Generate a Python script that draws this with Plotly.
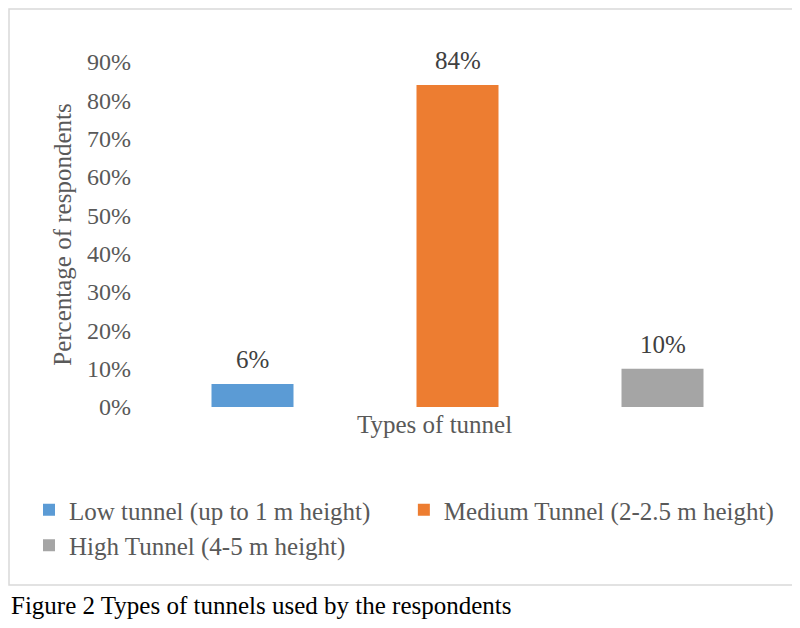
import plotly.graph_objects as go

# Datos del gráfico
tipos = ['Low tunnel (up to 1 m height)', 'Medium Tunnel (2-2.5 m height)', 'High Tunnel (4-5 m height)']
porcentajes = [0.06, 0.84, 0.10]
colores = ['#5B9BD5', '#ED7D31', '#A5A5A5']
ticks_y = [0, 0.1, 0.2, 0.3, 0.4, 0.5, 0.6, 0.7, 0.8, 0.9]
etiquetas_y = ['0%', '10%', '20%', '30%', '40%', '50%', '60%', '70%', '80%', '90%']

# La página tiene un margen de 8 px en el body, así que la figura es algo más pequeña
OFF = 8
W, H = 800 - OFF, 628 - OFF
fuente = 'Liberation Serif'
gris = '#595959'


def px(x):
    # posición horizontal de la pantalla -> coordenadas paper
    return (x - OFF) / W


def py(y):
    # posición vertical de la pantalla -> coordenadas paper
    return 1 - (y - OFF) / H


fig = go.Figure()

# Una traza por tipo para tener la leyenda como en Excel
for tipo, valor, color in zip(tipos, porcentajes, colores):
    fig.add_trace(go.Bar(
        x=[tipo],
        y=[valor],
        name=tipo,
        marker=dict(color=color, line=dict(width=0)),
        width=0.4,
        hovertemplate='%{y:.0%}<extra></extra>'
    ))

# Etiquetas de datos sobre las barras
annotations = []
for tipo, valor in zip(tipos, porcentajes):
    annotations.append(dict(
        x=tipo, y=valor, xref='x', yref='y',
        text=f'{valor:.0%}', showarrow=False,
        yanchor='bottom', yshift=9,
        font=dict(family=fuente, size=25, color='#404040')
    ))

# Título del eje X (desplazado como en el original)
annotations.append(dict(
    x=px(434), y=py(424), xref='paper', yref='paper',
    text='Types of tunnel', showarrow=False,
    xanchor='center', yanchor='middle',
    font=dict(family=fuente, size=25, color=gris)
))

# Pie de figura
annotations.append(dict(
    x=px(9), y=py(605), xref='paper', yref='paper',
    text='Figure 2 Types of tunnels used by the respondents', showarrow=False,
    xanchor='left', yanchor='middle',
    font=dict(family=fuente, size=25, color='black')
))

fig.update_layout(
    width=W, height=H,
    margin=dict(l=0, r=0, t=0, b=0, autoexpand=False),
    paper_bgcolor='white',
    plot_bgcolor='white',
    font=dict(family=fuente, size=24, color=gris),
    showlegend=True,
    legend=dict(
        orientation='h',
        x=px(29), y=py(487),
        xanchor='left', yanchor='top',
        font=dict(family=fuente, size=25, color=gris),
        itemclick=False
    ),
    annotations=annotations,
    shapes=[dict(
        type='rect', xref='paper', yref='paper',
        x0=px(9), x1=px(795), y0=py(585), y1=py(9),
        line=dict(color='#D9D9D9', width=1.5)
    )]
)

fig.update_xaxes(
    domain=[px(150), px(765)],
    showticklabels=False,
    showline=False,
    showgrid=False,
    zeroline=False,
    automargin=False,
    categoryorder='array', categoryarray=tipos
)

fig.update_yaxes(
    domain=[py(407), py(62)],
    range=[0, 0.9],
    tickvals=ticks_y,
    ticktext=etiquetas_y,
    tickfont=dict(family=fuente, size=24, color=gris),
    showgrid=False,
    zeroline=False,
    showline=False,
    automargin=False,
    ticklabelstandoff=18,
    title=dict(text='Percentage of respondents', standoff=8,
               font=dict(family=fuente, size=25, color=gris))
)

fig.write_html('out.html')
